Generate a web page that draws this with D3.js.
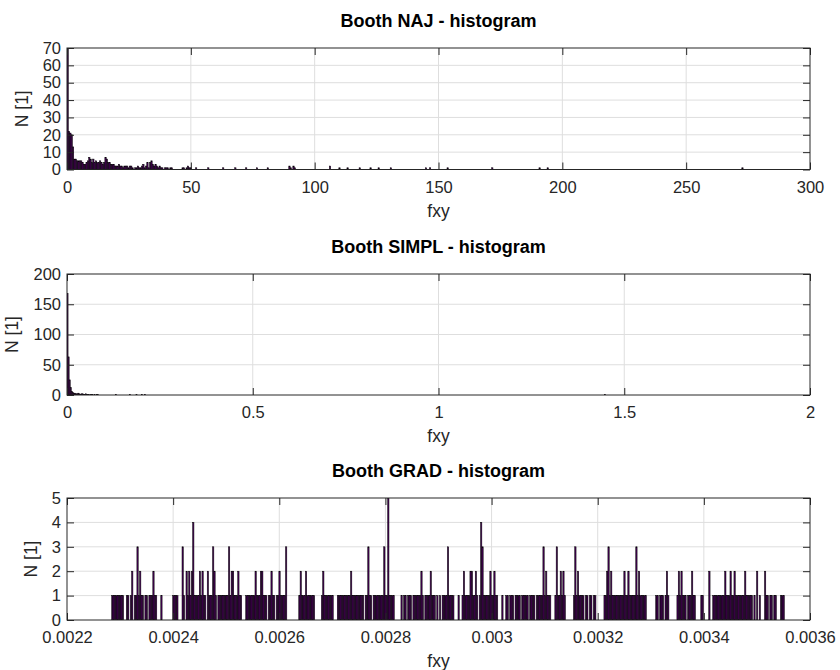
<!DOCTYPE html>
<html><head><meta charset="utf-8">
<script src="https://cdn.jsdelivr.net/npm/d3@7"></script>
<style>
body{margin:0;background:#fff;}
svg text{font-family:"Liberation Sans",Arial,Helvetica,sans-serif;}
</style></head><body>
<svg id="chart" width="840" height="670"></svg>
<script>
// ---------- data ----------
const titles = ["Booth NAJ - histogram", "Booth SIMPL - histogram", "Booth GRAD - histogram"];
const xAxisLabel = "fxy";
const yAxisLabel = "N [1]";

// NAJ histogram (bin width and counts)
const najBinWidth = 0.546;
const najHeadCounts = [70,22,21,20,13,6,6,5,5,5,
  5,4,3,3,4,5,7,6,4,6,
  4,5,4,4,5,4,3,4,7,6,
  4,4,3,3,3,2,2,2,3,2,
  2,1,2,2,2,1,2,2,1,0,
  1,1,2,1,1,2,3,1,2,4,
  1,4,5,3,2,3,2,1,2,1,
  1,0,1,1,1,0,1,1,0,0,
  0,0,0,0,0,1,1,0,1,2,
  1,1,0];
const najTailBins = [95,104,115,124,132,140,148,164,165,167,168,194,201,207,216,224,230,239,265,268,281,314,349,355,499];
const najTailCounts = [1,1,1,1,1,1,1,2,1,2,1,2,1,1,1,1,1,1,1,1,1,1,1,1,1];
const najXTicks = [0,50,100,150,200,250,300];
const najXLabels = ["0","50","100","150","200","250","300"];
const najYTicks = [0,10,20,30,40,50,60,70];
const najYLabels = ["0","10","20","30","40","50","60","70"];

// SIMPL histogram
const simplBinWidth = 0.0029;
const simplHeadCounts = [168,63,25,12,6,4,3,3,2,2,
  3,2,1,2,2,1,1,2,1,1,
  1,0,1,1,0,1,0,1,1,0];
const simplTailBins = [45,58,64,69,72,499];
const simplTailCounts = [1,1,1,1,1,1];
const simplXTicks = [0,0.5,1,1.5,2];
const simplXLabels = ["0","0.5","1","1.5","2"];
const simplYTicks = [0,50,100,150,200];
const simplYLabels = ["0","50","100","150","200"];

// GRAD histogram
const gradStart = 0.0022842;
const gradBinWidth = 0.0000025;
const gradCounts = [
1,1,1,1,1,1,1,1,1,0, 0,1,1,0,1,2,0,1,1,3, 1,2,1,1,0,1,1,0,1,1, 1,2,1,1,0,0,0,1,0,0,
0,0,0,0,0,0,1,1,1,1, 0,0,0,3,1,0,2,1,2,1, 2,4,1,1,1,1,2,1,2,1, 1,0,2,1,1,1,3,2,1,0,
1,1,1,1,1,1,1,1,3,1, 2,2,1,1,1,2,1,1,0,0, 0,1,1,1,1,1,1,1,2,1, 1,1,2,2,1,1,1,0,1,1,
2,1,1,0,1,1,2,1,1,1, 1,3,0,0,0,0,0,0,0,0, 0,1,2,1,1,1,2,1,1,1, 1,1,1,0,0,0,0,0,1,2,
1,1,1,1,1,1,1,0,0,0, 1,1,1,1,1,1,1,1,1,1, 2,1,1,1,1,1,1,1,1,1, 0,1,1,3,1,1,0,1,1,1,
1,1,1,1,1,3,1,1,5,1, 1,1,1,0,0,0,0,0,1,0, 1,1,0,1,1,1,0,1,1,1, 1,1,1,2,1,0,1,1,1,1,
2,1,1,1,0,1,0,1,0,1, 1,1,1,3,1,1,1,1,0,0, 0,1,0,0,1,2,1,1,1,1, 2,2,1,1,2,1,0,1,4,3,
1,1,1,1,1,2,1,1,2,1, 1,0,0,0,1,0,0,1,1,0, 1,1,1,0,1,1,1,1,0,1, 1,1,1,1,0,1,1,1,1,0,
1,1,1,1,1,3,1,2,1,1, 1,0,0,0,1,3,1,1,2,1, 2,1,0,0,0,0,0,0,1,3, 1,2,1,1,1,1,0,1,1,0,
1,1,0,1,1,0,0,0,0,0, 0,1,1,2,3,1,2,1,1,1, 1,1,1,1,1,1,2,1,1,2, 1,1,1,1,1,3,1,2,1,1,
1,1,1,0,0,0,0,0,0,0, 1,1,0,1,1,1,0,1,2,1, 0,0,0,0,0,0,1,2,1,2, 1,1,1,0,1,1,1,2,1,1,
0,0,0,0,1,1,0,0,0,0, 2,0,0,1,1,1,1,1,1,1, 1,1,2,1,1,1,2,1,1,2, 1,1,1,1,1,1,1,2,1,1,
1,1,1,0,1,0,2,0,1,0, 0,0,2,1,1,0,1,1,0,1, 1,0,0,0,1,1,1];
const gradXTicks = [0.0022,0.0024,0.0026,0.0028,0.0030,0.0032,0.0034,0.0036];
const gradXLabels = ["0.0022","0.0024","0.0026","0.0028","0.003","0.0032","0.0034","0.0036"];
const gradYTicks = [0,1,2,3,4,5];
const gradYLabels = ["0","1","2","3","4","5"];

// ---------- build bins ----------
function binsFrom(start, width, headCounts, tailBins, tailCounts) {
  const out = [];
  headCounts.forEach((n, i) => { if (n > 0) out.push({x0: start + i*width, x1: start + (i+1)*width, n}); });
  (tailBins || []).forEach((b, k) => out.push({x0: start + b*width, x1: start + (b+1)*width, n: tailCounts[k]}));
  return out;
}

const panels = [
  {title: titles[0], xDomain: [0,300], yDomain: [0,70], xTicks: najXTicks, xLabels: najXLabels, yTicks: najYTicks, yLabels: najYLabels,
   bins: binsFrom(0, najBinWidth, najHeadCounts, najTailBins, najTailCounts), top: 48, bottom: 169.5},
  {title: titles[1], xDomain: [0,2], yDomain: [0,200], xTicks: simplXTicks, xLabels: simplXLabels, yTicks: simplYTicks, yLabels: simplYLabels,
   bins: binsFrom(0, simplBinWidth, simplHeadCounts, simplTailBins, simplTailCounts), top: 274, bottom: 395},
  {title: titles[2], xDomain: [0.0022,0.0036], yDomain: [0,5], xTicks: gradXTicks, xLabels: gradXLabels, yTicks: gradYTicks, yLabels: gradYLabels,
   bins: binsFrom(gradStart, gradBinWidth, gradCounts, [], []), top: 498, bottom: 620}
];

// ---------- draw ----------
const svg = d3.select("#chart");
const left = 67, right = 810;
const axisColor = "#262626";
const tickLen = 7;
const fs = 16.5;
const labelFs = 17.5;

panels.forEach((p, idx) => {
  const x = d3.scaleLinear().domain(p.xDomain).range([left, right]);
  const y = d3.scaleLinear().domain(p.yDomain).range([p.bottom, p.top]);
  const g = svg.append("g");

  const clipId = "clip" + idx;
  svg.append("clipPath").attr("id", clipId).append("rect")
    .attr("x", left).attr("y", p.top).attr("width", right - left).attr("height", p.bottom - p.top);

  // grid
  g.append("g").selectAll("line").data(p.xTicks.slice(1, -1)).join("line")
    .attr("x1", d => x(d)).attr("x2", d => x(d)).attr("y1", p.top).attr("y2", p.bottom)
    .attr("stroke", "#dedede").attr("stroke-width", 1);
  g.append("g").selectAll("line").data(p.yTicks.slice(1, -1)).join("line")
    .attr("x1", left).attr("x2", right).attr("y1", d => y(d)).attr("y2", d => y(d))
    .attr("stroke", "#dedede").attr("stroke-width", 1);

  // bars
  g.append("g").attr("clip-path", `url(#${clipId})`).selectAll("rect").data(p.bins).join("rect")
    .attr("x", d => x(d.x0)).attr("width", d => Math.max(0.3, x(d.x1) - x(d.x0)))
    .attr("y", d => y(d.n)).attr("height", d => y(0) - y(d.n))
    .attr("fill", "#440154").attr("stroke", "#000").attr("stroke-width", 0.5);

  // axes
  const xb = d3.axisBottom(x).tickValues(p.xTicks).tickFormat((d, i) => p.xLabels[i])
    .tickSizeInner(-tickLen).tickSizeOuter(0).tickPadding(11.3);
  const xt = d3.axisTop(x).tickValues(p.xTicks).tickFormat("").tickSizeInner(-tickLen).tickSizeOuter(0);
  const yl = d3.axisLeft(y).tickValues(p.yTicks).tickFormat((d, i) => p.yLabels[i])
    .tickSizeInner(-tickLen).tickSizeOuter(0).tickPadding(6);
  const yr = d3.axisRight(y).tickValues(p.yTicks).tickFormat("").tickSizeInner(-tickLen).tickSizeOuter(0);

  const ax = [
    g.append("g").attr("transform", `translate(0,${p.bottom})`).call(xb),
    g.append("g").attr("transform", `translate(0,${p.top})`).call(xt),
    g.append("g").attr("transform", `translate(${left},0)`).call(yl),
    g.append("g").attr("transform", `translate(${right},0)`).call(yr)
  ];
  ax.forEach(a => {
    a.select(".domain").remove();
    a.selectAll(".tick line").attr("stroke", axisColor).attr("stroke-width", 1);
    a.selectAll(".tick text").attr("fill", axisColor).attr("font-size", fs)
      .attr("font-family", '"Liberation Sans",Arial,Helvetica,sans-serif');
  });

  // widest y tick label, to place the y-axis label like Octave does
  let maxW = 0;
  ax[2].selectAll(".tick text").each(function() { maxW = Math.max(maxW, this.getComputedTextLength()); });

  // box
  g.append("rect").attr("x", left).attr("y", p.top).attr("width", right - left).attr("height", p.bottom - p.top)
    .attr("fill", "none").attr("stroke", axisColor).attr("stroke-width", 1);

  // title
  g.append("text").attr("x", (left + right) / 2).attr("y", p.top - 21)
    .attr("text-anchor", "middle").attr("font-weight", "bold").attr("font-size", 18)
    .attr("fill", "#000").text(p.title);

  // x label
  g.append("text").attr("x", (left + right) / 2).attr("y", p.bottom + 47)
    .attr("text-anchor", "middle").attr("font-size", labelFs).attr("fill", axisColor).text(xAxisLabel);

  // y label
  const ylx = left - 6 - maxW - 15;
  g.append("text").attr("transform", `translate(${ylx},${(p.top + p.bottom) / 2}) rotate(-90)`)
    .attr("text-anchor", "middle").attr("font-size", labelFs).attr("fill", axisColor).text(yAxisLabel);
});
</script>
</body></html>
